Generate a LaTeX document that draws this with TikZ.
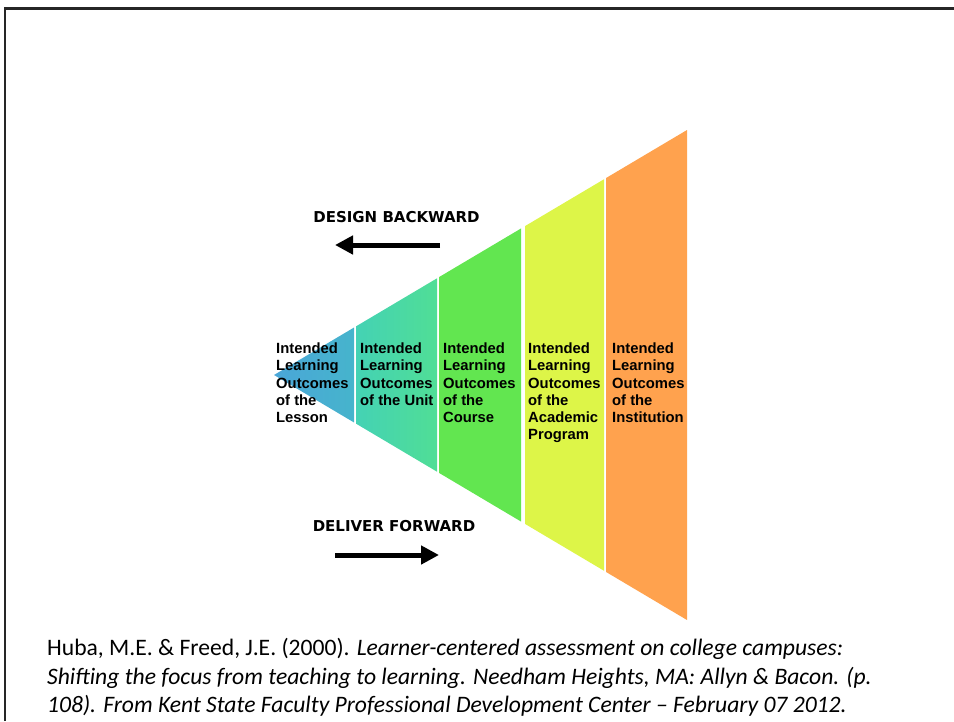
\documentclass[tikz,border=0pt]{standalone}
\usepackage{fontspec}
\setmainfont{Liberation Sans}
\newfontfamily\dejavu{DejaVu Sans}
\newfontfamily\carlito{Carlito}
\usetikzlibrary{arrows.meta}
\definecolor{cblue}{HTML}{4AA6D8}
\definecolor{cblueb}{HTML}{46B4CC}
\definecolor{cteal}{HTML}{44D2B4}
\definecolor{ctealb}{HTML}{50DE96}
\definecolor{cgreen}{HTML}{62E650}
\definecolor{cyellow}{HTML}{DDF548}
\definecolor{corange}{HTML}{FFA24E}
\newcommand\topy[1]{375-0.5932*(#1-274)}
\newcommand\boty[1]{375+0.5932*(#1-274)}
\tikzset{
  coltext/.style={anchor=north west, inner sep=0pt, align=left,
    font=\fontsize{14.8}{17.3}\selectfont\bfseries},
  dirtext/.style={inner sep=0pt, font=\dejavu\fontsize{15}{17}\selectfont\bfseries},
  bigarrow/.style={line width=5pt, -{Triangle[length=18pt,width=18pt]}},
  cite/.style={anchor=base west, inner sep=0pt, font=\carlito\fontsize{23.6}{28}\selectfont}
}
\begin{document}
\begin{tikzpicture}[x=1pt,y=-1pt]
\useasboundingbox (0,0) rectangle (954,721);
% frame
\draw[line width=2.5pt, black!85] (5,721) -- (5,8.5) -- (954,8.5);
% columns
\shade[left color=cblue, right color=cblueb] (274,375) -- (354,{\topy{354}}) -- (354,{\boty{354}}) -- cycle;
\shade[left color=cteal, right color=ctealb] (356,{\topy{356}}) -- (437,{\topy{437}}) -- (437,{\boty{437}}) -- (356,{\boty{356}}) -- cycle;
\fill[cgreen] (439,{\topy{439}}) -- (521,{\topy{521}}) -- (521,{\boty{521}}) -- (439,{\boty{439}}) -- cycle;
\fill[cyellow] (525,{\topy{525}}) -- (604,{\topy{604}}) -- (604,{\boty{604}}) -- (525,{\boty{525}}) -- cycle;
\fill[corange] (606,{\topy{606}}) -- (687,{\topy{687}}) -- (687,{\boty{687}}) -- (606,{\boty{606}}) -- cycle;
% column texts
\node[coltext] (t1) at (276,342.5) {Intended\\Learning\\Outcomes\\of the\\Lesson};
\node[coltext] (t2) at (360,342.5) {Intended\\Learning\\Outcomes\\of the Unit};
\node[coltext] (t3) at (443,342.5) {Intended\\Learning\\Outcomes\\of the\\Course};
\node[coltext] (t4) at (528,342.5) {Intended\\Learning\\Outcomes\\of the\\Academic\\Program};
\node[coltext] (t5) at (612,342.5) {Intended\\Learning\\Outcomes\\of the\\Institution};
% direction labels
\node[dirtext] (db) at (396.5,217) {DESIGN BACKWARD};
\node[dirtext] (df) at (394,526) {DELIVER FORWARD};
\coordinate (b1) at (440,245);
\coordinate (b2) at (335,245);
\coordinate (f1) at (335,555);
\coordinate (f2) at (439,555);
\draw[bigarrow] (b1) -- (b2);
\draw[bigarrow] (f1) -- (f2);
% citation
\node[cite] (c1) at (47,655) {Huba, M.E. \& Freed, J.E. (2000). \textit{Learner-centered assessment on college campuses:}};
\node[cite] (c2) at (47,684) {\textit{Shifting the focus from teaching to learning. Needham Heights, MA: Allyn \& Bacon. (p.}};
\node[cite] (c3) at (47,712.5) {\textit{108). From Kent State Faculty Professional Development Center – February 07 2012.}};
\end{tikzpicture}
\end{document}
